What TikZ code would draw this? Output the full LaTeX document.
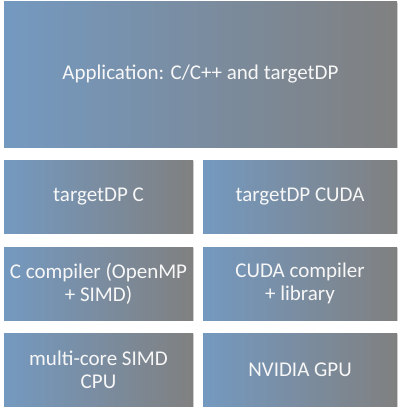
\documentclass[tikz,border=0pt]{standalone}
\usepackage{fontspec}
\setmainfont{Carlito}
\usetikzlibrary{shadows}
\definecolor{lblue}{RGB}{116,153,192}
\definecolor{rgray}{RGB}{128,128,128}
\tikzset{
  layer/.style={draw=none, left color=lblue, right color=rgray, shading angle=90,
    text=white!94!gray, align=center, font=\fontsize{21}{23}\selectfont, inner sep=0pt,
    drop shadow={shadow xshift=1pt, shadow yshift=-1.2pt, fill=black!25, opacity=0.6}},
}
\begin{document}
\begin{tikzpicture}[x=1pt,y=-1pt]
\useasboundingbox (0,0) rectangle (400,412);
\node[layer, minimum width=393pt, minimum height=145pt] (app) at (200.5,74.5) {Application: C/C++ and targetDP};
\node[layer, minimum width=189pt, minimum height=73pt] (tc) at (98.5,196.5) {targetDP C};
\node[layer, minimum width=194pt, minimum height=73pt] (tcuda) at (300,196.5) {targetDP CUDA};
\node[layer, minimum width=189pt, minimum height=73pt] (cc) at (98.5,283.5) {C compiler (OpenMP\\+ SIMD)};
\node[layer, minimum width=194pt, minimum height=73pt] (cudac) at (300,283.5) {CUDA compiler\\+ library};
\node[layer, minimum width=189pt, minimum height=73pt] (cpu) at (98.5,369.5) {multi-core SIMD\\CPU};
\node[layer, minimum width=194pt, minimum height=73pt] (gpu) at (300,369.5) {NVIDIA GPU};
\end{tikzpicture}
\end{document}
